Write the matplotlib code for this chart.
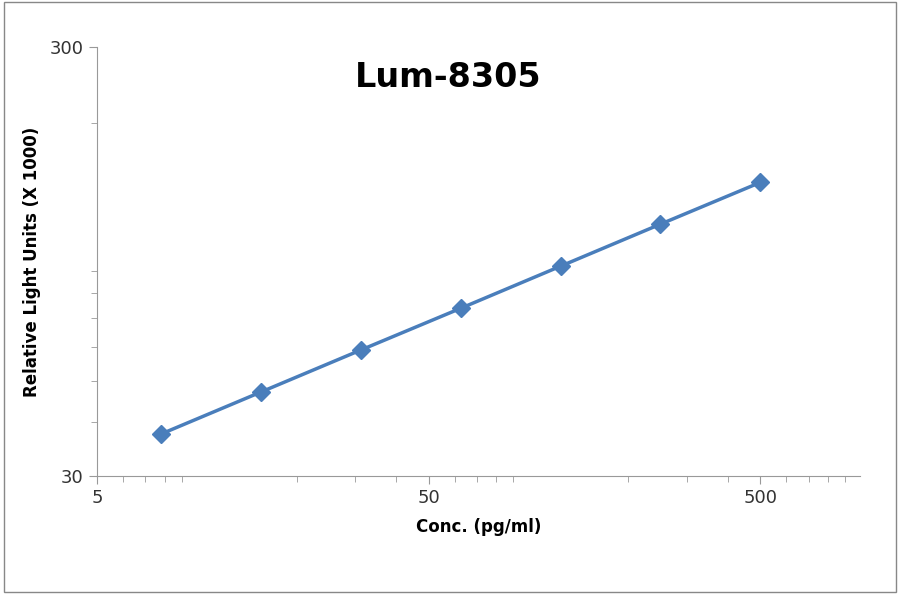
import matplotlib
matplotlib.use("Agg")
import matplotlib.pyplot as plt
from matplotlib.ticker import FixedLocator, NullFormatter, LogLocator

conc = [7.8125, 15.625, 31.25, 62.5, 125, 250, 500]
rlu = [37.6, 47.1, 59.0, 73.8, 92.5, 115.9, 145.0]
xticks = [5, 50, 500]
yticks = [30, 300]

fig = plt.figure(figsize=(9, 5.94), dpi=100)
fig.patches.append(plt.Rectangle((0.004, 0.004), 0.992, 0.992, transform=fig.transFigure,
                                 fill=False, edgecolor="#888888", lw=1))
ax = fig.add_axes([97/900, 1-476/594, (860-97)/900, (476-47)/594])
ax.set_xscale("log"); ax.set_yscale("log")
ax.set_xlim(5, 1000); ax.set_ylim(30, 300)
ax.plot(conc, rlu, color="#4a7ebb", lw=2.5, marker="D", ms=9, mfc="#4a7ebb", mec="#4a7ebb")
for s in ["top", "right"]:
    ax.spines[s].set_visible(False)
for s in ["left", "bottom"]:
    ax.spines[s].set_color("#999999")
ax.xaxis.set_major_locator(FixedLocator(xticks))
ax.yaxis.set_major_locator(FixedLocator(yticks))
ax.set_xticklabels([str(v) for v in xticks])
ax.set_yticklabels([str(v) for v in yticks])
ax.xaxis.set_minor_locator(LogLocator(base=10, subs=range(2, 10)))
ax.yaxis.set_minor_locator(LogLocator(base=10, subs=range(2, 10)))
ax.xaxis.set_minor_formatter(NullFormatter())
ax.yaxis.set_minor_formatter(NullFormatter())
ax.tick_params(which="both", color="#999999", labelsize=13, labelcolor="#333333")
ax.tick_params(which="major", length=6)
ax.tick_params(which="minor", length=4)
ax.set_xlabel("Conc. (pg/ml)", fontsize=12, fontweight="bold", labelpad=8)
ax.set_ylabel("Relative Light Units (X 1000)", fontsize=12, fontweight="bold", labelpad=6)
ax.text(0.46, 0.93, "Lum-8305", transform=ax.transAxes, ha="center", va="center",
        fontsize=24, fontweight="bold")
fig.savefig("out.png", dpi=100)
